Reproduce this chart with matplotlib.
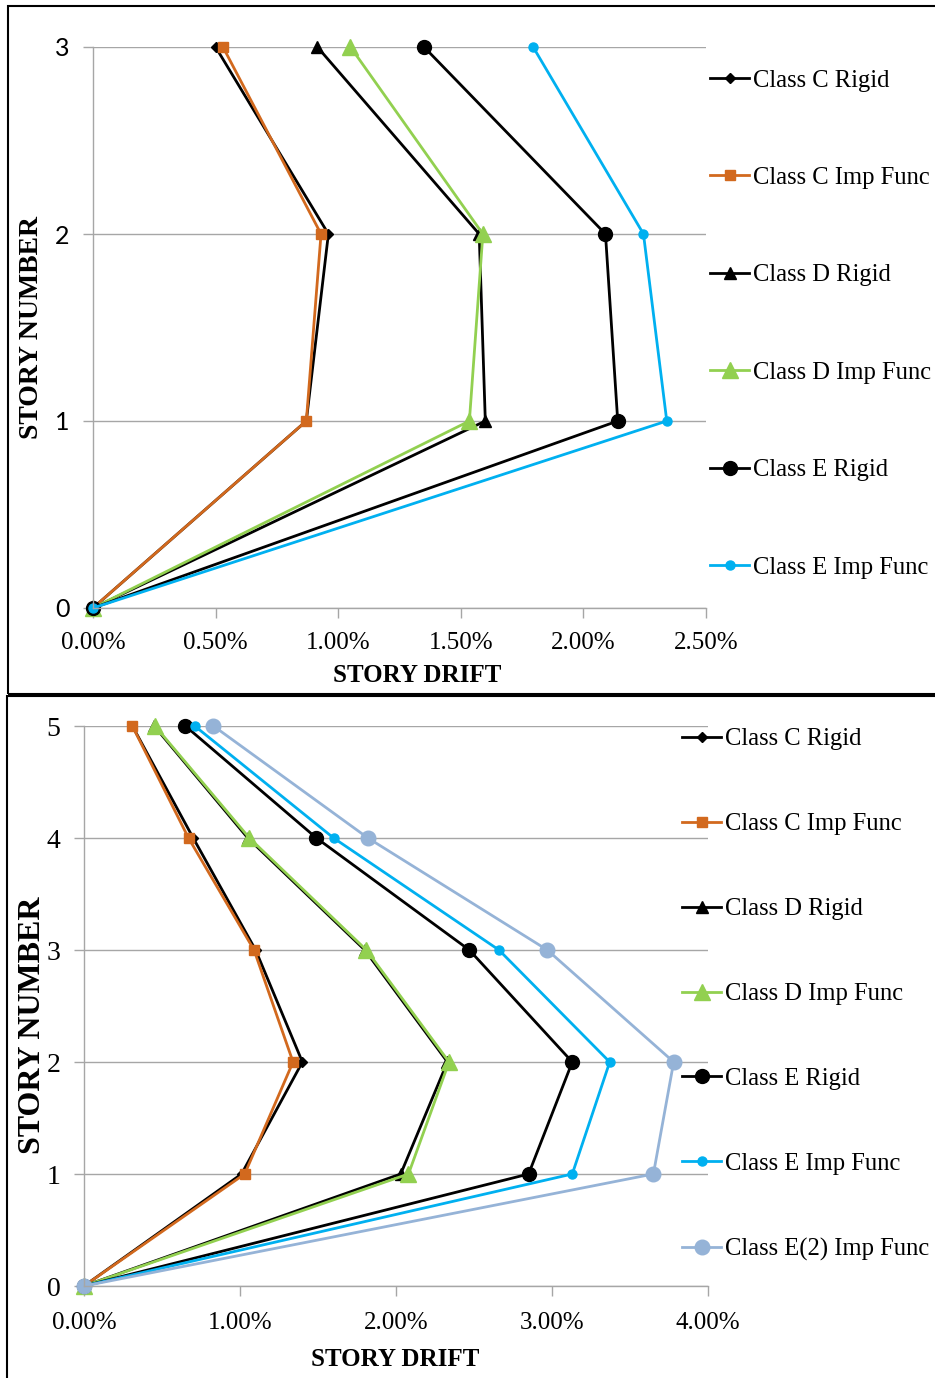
import matplotlib
matplotlib.use("Agg")
import matplotlib.pyplot as plt
from matplotlib.patches import Rectangle
from matplotlib.ticker import FuncFormatter, MultipleLocator

# ---- data (story drift in %) ----
stories3 = [0, 1, 2, 3]
top_c_rigid = [0.0, 0.87, 0.96, 0.50]
top_c_imp = [0.0, 0.87, 0.93, 0.53]
top_d_rigid = [0.0, 1.60, 1.575, 0.915]
top_d_imp = [0.0, 1.535, 1.59, 1.05]
top_e_rigid = [0.0, 2.14, 2.09, 1.35]
top_e_imp = [0.0, 2.34, 2.245, 1.795]

stories5 = [0, 1, 2, 3, 4, 5]
bot_c_rigid = [0.0, 1.01, 1.40, 1.10, 0.70, 0.31]
bot_c_imp = [0.0, 1.03, 1.34, 1.09, 0.67, 0.31]
bot_d_rigid = [0.0, 2.03, 2.33, 1.80, 1.05, 0.45]
bot_d_imp = [0.0, 2.08, 2.34, 1.81, 1.06, 0.455]
bot_e_rigid = [0.0, 2.85, 3.13, 2.47, 1.49, 0.65]
bot_e_imp = [0.0, 3.13, 3.37, 2.66, 1.60, 0.71]
bot_e2_imp = [0.0, 3.65, 3.78, 2.97, 1.82, 0.83]

labels = ["Class C Rigid", "Class C Imp Func", "Class D Rigid", "Class D Imp Func",
          "Class E Rigid", "Class E Imp Func", "Class E(2) Imp Func"]

ORANGE = "#D2691E"
GREEN = "#92D050"
BLUE = "#00B0F0"
LBLUE = "#95B3D7"
GRID = "#A6A6A6"

styles = [
    dict(color="black", marker="D", ms=5),
    dict(color=ORANGE, marker="s", ms=7),
    dict(color="black", marker="^", ms=8),
    dict(color=GREEN, marker="^", ms=12),
    dict(color="black", marker="o", ms=10),
    dict(color=BLUE, marker="o", ms=6.5),
    dict(color=LBLUE, marker="o", ms=10.5),
]

SERIF = "Liberation Serif"
W, H = 935, 1378


def rect(l, t, r, b):
    return [l / W, 1 - b / H, (r - l) / W, (b - t) / H]


def style_axes(ax, xmax, xstep, ymax, ytick_font, ytick_size, xpad):
    ax.set_xlim(0, xmax)
    ax.set_ylim(0, ymax)
    ax.xaxis.set_major_locator(MultipleLocator(xstep))
    ax.yaxis.set_major_locator(MultipleLocator(1))
    ax.xaxis.set_major_formatter(FuncFormatter(lambda v, p: "%.2f%%" % v))
    for s in ["top", "right"]:
        ax.spines[s].set_visible(False)
    for s in ["left", "bottom"]:
        ax.spines[s].set_color(GRID)
        ax.spines[s].set_linewidth(1)
    ax.grid(axis="y", color=GRID, lw=1)
    ax.set_axisbelow(True)
    ax.tick_params(axis="x", direction="out", length=7, width=1, color=GRID, pad=xpad,
                   labelsize=18)
    ax.tick_params(axis="y", direction="out", length=7, width=1, color=GRID, pad=10,
                   labelsize=ytick_size)
    for t in ax.get_xticklabels():
        t.set_fontfamily(SERIF)
    for t in ax.get_yticklabels():
        t.set_fontfamily(ytick_font)


fig = plt.figure(figsize=(W / 100, H / 100), dpi=100)

# panel borders
fig.add_artist(Rectangle((8 / W, 1 - 694 / H), 1.0, 688 / H, transform=fig.transFigure,
                         fill=False, ec="black", lw=1.5))
fig.add_artist(Rectangle((7 / W, -0.01), 1.0, 1 - 696 / H + 0.01, transform=fig.transFigure,
                         fill=False, ec="black", lw=1.5))

# ---- top chart ----
ax1 = fig.add_axes(rect(93, 47, 706, 608))
top_series = [top_c_rigid, top_c_imp, top_d_rigid, top_d_imp, top_e_rigid, top_e_imp]
for vals, lab, st in zip(top_series, labels, styles):
    ax1.plot(vals, stories3, lw=2, label=lab, clip_on=False, **st)
style_axes(ax1, 2.5, 0.5, 3, "Lato", 18, 10)
ax1.set_xlabel("STORY DRIFT", fontfamily=SERIF, fontweight="bold", fontsize=18)
ax1.xaxis.set_label_coords((417 - 93) / 613, (608 - 676) / 561)
ax1.xaxis.label.set_va("center")
ax1.set_ylabel("STORY NUMBER", fontfamily=SERIF, fontweight="bold", fontsize=20)
ax1.yaxis.set_label_coords((32 - 93) / 613, 0.5)
ax1.yaxis.label.set_va("center")
ax1.legend(loc="center left", bbox_to_anchor=(710 / W, 1 - 324 / H),
           bbox_transform=fig.transFigure, frameon=False, borderpad=0, borderaxespad=0,
           handlelength=1.6, handletextpad=0.15, labelspacing=3.06,
           prop=dict(family=SERIF, size=17.7))

# ---- bottom chart ----
ax2 = fig.add_axes(rect(84, 726, 708, 1286))
bot_series = [bot_c_rigid, bot_c_imp, bot_d_rigid, bot_d_imp, bot_e_rigid, bot_e_imp, bot_e2_imp]
for vals, lab, st in zip(bot_series, labels, styles):
    ax2.plot(vals, stories5, lw=2, label=lab, clip_on=False, **st)
style_axes(ax2, 4.0, 1.0, 5, SERIF, 20, 12)
ax2.set_xlabel("STORY DRIFT", fontfamily=SERIF, fontweight="bold", fontsize=18)
ax2.xaxis.set_label_coords((395 - 84) / 624, (1286 - 1360) / 560)
ax2.xaxis.label.set_va("center")
ax2.set_ylabel("STORY NUMBER", fontfamily=SERIF, fontweight="bold", fontsize=23)
ax2.yaxis.set_label_coords((33 - 84) / 624, (1286 - 1025) / 560)
ax2.yaxis.label.set_va("center")
ax2.legend(loc="center left", bbox_to_anchor=(682 / W, 1 - 994.5 / H),
           bbox_transform=fig.transFigure, frameon=False, borderpad=0, borderaxespad=0,
           handlelength=1.6, handletextpad=0.15, labelspacing=2.55,
           prop=dict(family=SERIF, size=17.7))

fig.savefig("out.png", dpi=100)
